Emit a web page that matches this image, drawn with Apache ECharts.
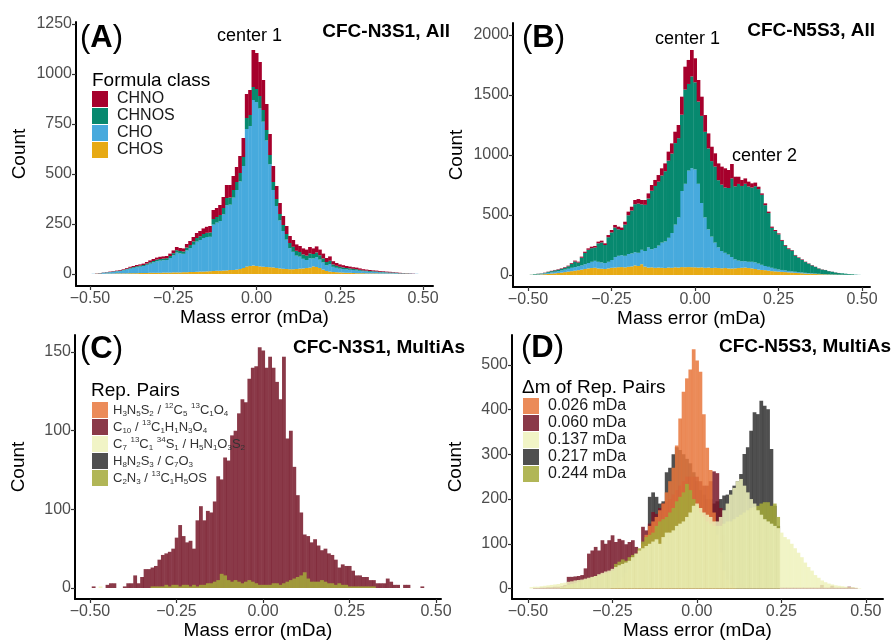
<!DOCTYPE html>
<html>
<head>
<meta charset="utf-8">
<script src="https://cdn.jsdelivr.net/npm/echarts@6/dist/echarts.min.js"></script>
<style>
html, body { margin: 0; padding: 0; background: #fff; }
#chart { width: 893px; height: 642px; }
</style>
</head>
<body>
<div id="chart"></div>
<script>
// bin centres (mDa), bin width 0.01
var bins = [-0.49,-0.48,-0.47,-0.46,-0.45,-0.44,-0.43,-0.42,-0.41,-0.40,
  -0.39,-0.38,-0.37,-0.36,-0.35,-0.34,-0.33,-0.32,-0.31,-0.30,
  -0.29,-0.28,-0.27,-0.26,-0.25,-0.24,-0.23,-0.22,-0.21,-0.20,
  -0.19,-0.18,-0.17,-0.16,-0.15,-0.14,-0.13,-0.12,-0.11,-0.10,
  -0.09,-0.08,-0.07,-0.06,-0.05,-0.04,-0.03,-0.02,-0.01,0.00,
  0.01,0.02,0.03,0.04,0.05,0.06,0.07,0.08,0.09,0.10,
  0.11,0.12,0.13,0.14,0.15,0.16,0.17,0.18,0.19,0.20,
  0.21,0.22,0.23,0.24,0.25,0.26,0.27,0.28,0.29,0.30,
  0.31,0.32,0.33,0.34,0.35,0.36,0.37,0.38,0.39,0.40,
  0.41,0.42,0.43,0.44,0.45,0.46,0.47,0.48,0.49];
var BIN = 0.01;

// (A) CFC-N3S1, All  -- stacked counts
var aCHOS = [0,1,1,1,2,2,2,3,3,3, 3,4,4,4,5,5,5,6,6,6, 6,7,7,7,8,8,8,9,9,10,
  10,11,12,12,13,14,15,16,16,17, 18,20,20,22,25,30,38,40,42,40, 38,36,35,34,33,30,28,26,25,24,
  24,25,27,28,30,32,38,35,30,22, 15,12,10,9,8,7,6,6,5,4, 4,4,3,3,3,3,2,2,2,2, 2,1,1,1,1,0,0,0,0];
var aCHO = [1,1,2,5,6,7,9,10,12,15, 20,23,27,30,32,35,41,46,52,58, 61,62,63,73,85,99,95,92,109,120,
  136,151,158,168,172,172,232,241,249,281, 326,327,362,398,438,510,687,700,828,820,
  790,726,633,515,387,310,240,189,147,105, 87,67,60,48,40,47,40,49,42,36,
  29,38,26,22,19,18,17,15,15,14, 12,10,10,8,8,7,6,6,5,4, 4,3,2,2,1,1,1,1,0];
var aCHNOS = [0,0,1,1,1,1,2,2,2,3, 3,4,4,5,5,5,6,7,7,8, 8,8,9,10,11,12,12,12,14,15,
  17,18,19,20,21,22,28,28,30,32, 36,36,38,40,42,45,55,55,65,65, 62,58,52,46,40,35,32,30,28,26,
  25,24,23,22,22,24,22,24,22,20, 16,16,12,10,9,8,7,7,6,6, 5,4,4,4,3,3,3,3,2,2, 2,2,1,1,1,1,0,0,0];
var aCHNO = [0,1,1,1,1,2,2,2,3,3, 4,5,5,6,6,7,8,9,10,10, 11,11,11,12,14,16,15,15,18,20,
  22,25,26,28,30,32,45,45,50,55, 65,62,70,75,85,95,120,125,185,180, 170,150,130,105,80,65,55,45,40,35,
  34,32,30,30,30,32,28,30,28,24, 20,22,16,14,12,11,10,9,8,8, 7,6,5,5,4,4,4,3,3,3, 2,2,2,1,1,1,1,0,0];

// (B) CFC-N5S3, All  -- stacked counts
var bCHOS = [1,2,3,5,7,9,12,14,17,20, 24,28,32,36,40,45,50,55,58,60, 55,52,50,55,60,62,65,66,64,68,
  72,80,75,90,70,62,64,60,62,60, 58,62,60,64,62,66,65,66,65,64, 62,64,60,62,58,60,58,56,58,55,
  54,56,58,60,62,58,55,50,45,42, 40,36,32,30,28,26,24,22,20,18, 16,14,12,11,10,8,7,6,5,4, 3,3,2,2,1,1,1,0,0];
var bCHO = [1,2,3,5,7,9,10,13,15,18, 21,24,28,30,32,35,40,45,52,58, 55,53,50,55,65,88,95,99,96,107,
  108,110,110,120,130,168,151,165,183,210, 222,248,290,356,418,634,695,804,825,816,
  698,536,420,318,262,210,172,144,127,115, 96,74,62,55,53,52,55,55,50,43,
  35,32,28,22,18,16,14,12,10,9, 8,7,6,5,4,4,3,2,2,2, 2,1,1,1,1,1,0,1,0];
var bCHNOS = [1,4,4,3,4,8,10,12,12,14, 16,21,34,46,32,64,94,110,114,111, 154,166,150,205,230,245,221,210,260,323,
  357,400,410,379,385,408,487,517,533,559, 585,643,662,679,660,636,786,722,765,726,
  685,726,713,675,629,634,560,553,544,555, 655,609,639,627,645,628,619,635,621,583,
  507,448,333,314,293,243,206,182,173,135, 119,106,90,78,66,55,44,37,34,26, 22,17,13,11,9,6,5,2,1];
var bCHNO = [0,0,1,1,2,2,3,3,4,4, 5,5,6,8,7,9,10,12,12,13, 14,15,14,18,20,22,22,20,24,30,
  32,35,38,36,40,42,48,50,55,60, 65,75,85,95,110,150,190,200,220,200, 180,160,140,125,120,110,140,150,160,150,
  120,80,60,50,45,40,35,30,20,12, 15,12,10,9,8,7,6,6,5,5, 4,4,3,3,3,2,2,2,1,1, 1,1,1,0,0,0,0,0,0];

// (C) CFC-N3S1, MultiAs -- overlaid counts
var cPair1 = [];
var cPair2 = [1,0,0,0,2,3,3,0,0,1, 3,3,8,3,7,12,12,13,14,18, 21,22,23,25,32,40,33,29,30,25,
  43,52,43,49,48,55,71,69,83,81, 97,100,111,120,118,133,140,141,153,151, 140,147,140,131,120,147,95,100,77,59,
  48,34,33,29,31,27,24,25,22,21, 18,13,15,14,14,11,8,8,7,7, 5,5,3,3,3,6,4,2,2,0, 2,2,0,0,0,1,0,0,0];
var cPair3 = [0,0,1,0,0,0,0,0,0,0, 0,0,0,0,0,0,0,0,0,0, 0,0,0,0,0,0,0,0,0,0,
  0,0,0,0,0,0,0,0,0,0, 0,0,0,0,0,0,0,0,0,0, 0,0,0,0,0,0,0,0,0,0,
  0,0,0,0,0,0,0,0,0,0, 0,0,0,0,0,0,0,0,0,0, 0,0,0,0,0,0,0,0,0,0, 0,0,0,0,0,0,0,0,0];
var cPair4 = [];
var cPair5 = [0,0,0,0,0,0,0,0,0,0, 0,0,0,0,0,0,0,1,1,1, 1,2,1,2,2,1,2,2,1,2,
  1,2,2,3,3,4,5,9,8,5, 4,5,4,3,4,5,4,3,2,2, 2,2,3,3,2,3,4,5,6,7,
  8,10,6,4,4,4,5,4,3,3, 2,3,2,2,1,1,1,1,1,1, 1,1,0,0,0,0,0,0,0,0, 0,0,0,0,0,0,0,0,0];

// (D) CFC-N5S3, MultiAs -- overlaid counts
var d026 = [0,0,0,0,0,0,0,0,0,0, 0,0,0,0,0,0,0,0,0,0, 0,0,0,0,5,10,15,25,35,45,
  60,70,85,100,120,140,150,160,175,190, 215,240,270,320,380,440,470,490,535,510,
  485,390,315,265,170,120,80,40,20,10, 5,0,0,0,0,0,0,0,0,0,
  0,0,0,0,0,0,0,0,0,0, 0,0,0,0,0,0,0,0,0,0, 0,0,0,0,0,0,0,0,0];
var d060 = [0,1,1,2,2,3,3,4,4,5, 8,26,26,27,28,30,45,78,85,93, 85,108,100,108,119,104,111,108,99,104,
  108,93,85,138,130,145,171,167,180,190, 195,200,210,220,230,240,250,250,250,250,
  240,230,230,240,262,258,180,120,60,30, 20,15,10,8,6,5,4,4,3,3,
  3,2,2,2,2,2,2,2,2,2, 2,2,2,2,2,2,8,2,2,6, 2,2,2,2,4,2,1,0,0];
var d137 = [3,4,4,5,6,7,8,9,10,12, 13,15,16,18,19,20,22,24,26,28, 32,35,38,40,44,48,52,55,58,62,
  70,78,85,90,95,100,105,110,100,115, 125,125,130,140,145,150,160,170,185,190,
  180,170,165,160,150,150,160,175,190,210, 225,240,245,230,215,200,190,175,165,155,
  150,145,140,135,125,115,110,100,90,80, 70,58,48,40,30,24,18,14,11,9, 7,6,5,4,3,3,2,1,0];
var d217 = [0,0,0,0,0,0,0,0,0,0, 0,0,0,0,0,0,0,0,0,0, 0,0,0,0,5,8,10,12,15,20,
  10,20,30,60,100,205,215,205,190,195, 260,270,300,316,310,300,290,280,260,240,
  220,210,200,200,190,195,200,208,210,220, 230,240,256,301,316,353,394,390,420,409,
  401,312,185,140,0,0,0,0,0,0, 0,0,0,0,0,0,0,0,0,0, 0,0,0,0,0,0,0,0,0];
var d244 = [0,0,0,0,0,0,0,0,0,3, 5,8,10,12,15,18,20,22,25,28, 30,32,34,36,40,55,60,65,62,70,
  75,78,90,105,115,120,125,140,150,155, 160,170,180,195,205,215,234,220,200,185,
  170,160,150,145,140,140,140,145,150,150, 155,160,165,170,175,180,182,185,190,193,
  193,185,190,160,0,0,0,0,0,0, 0,0,0,0,0,0,0,0,0,0, 0,0,0,0,0,0,0,0,0];

// tick values / labels
var xTicks = [-0.5, -0.25, 0, 0.25, 0.5];
var aYTicks = [0, 250, 500, 750, 1000, 1250];
var bYTicks = [0, 500, 1000, 1500, 2000];
var cYTicks = [0, 50, 100, 150];
var cYLabels = ['0', '100', '100', '150'];
var dYTicks = [0, 100, 200, 300, 400, 500];

var aNames = ['CHNO', 'CHNOS', 'CHO', 'CHOS'];
var aColors = ['#A6002C', '#07896F', '#47AADD', '#E7AA14'];
var pairNames = ['H3N5S2/12C5 13C1O4', 'C10/13C1H1N3O4', 'C7 13C1 34S1/H5N1O3S2', 'H8N2S3/C7O3', 'C2N3/13C1H5OS'];
var pairRich = [
  'H{b|3}N{b|5}S{b|2} / {p|12}C{b|5} {p|13}C{b|1}O{b|4}',
  'C{b|10} / {p|13}C{b|1}H{b|1}N{b|3}O{b|4}',
  'C{b|7} {p|13}C{b|1} {p|34}S{b|1} / H{b|5}N{b|1}O{b|3}S{b|2}',
  'H{b|8}N{b|2}S{b|3} / C{b|7}O{b|3}',
  'C{b|2}N{b|3} / {p|13}C{b|1}H{b|5}OS'
];
var dmNames = ['0.026 mDa', '0.060 mDa', '0.137 mDa', '0.217 mDa', '0.244 mDa'];
var pairColors = ['#E8773C', '#761628', '#EEF2BC', '#303030', '#A3A93A'];

var FONT = '"Liberation Sans", Arial, sans-serif';

function histSeries(idx, name, color, opacity, vals, base) {
  var data = [];
  for (var i = 0; i < bins.length; i++) {
    var lo = base ? base[i] : 0;
    var v = vals[i] || 0;
    data.push([bins[i], lo, lo + v]);
  }
  return {
    type: 'custom',
    name: name,
    xAxisIndex: idx,
    yAxisIndex: idx,
    silent: true,
    itemStyle: { color: color, opacity: opacity },
    encode: { x: 0, y: 2 },
    data: data,
    renderItem: function (params, api) {
      var lo = api.value(1), hi = api.value(2);
      if (!(hi > lo)) return null;
      var x = api.value(0);
      var p0 = api.coord([x - BIN / 2, lo]);
      var p1 = api.coord([x + BIN / 2, hi]);
      return {
        type: 'rect',
        shape: { x: p0[0], y: p1[1], width: p1[0] - p0[0] + 0.35, height: p0[1] - p1[1] },
        style: { fill: color, opacity: opacity }
      };
    }
  };
}

function minusFmt(v) {
  return (v < 0 ? '\u2212' : '') + Math.abs(v).toFixed(2);
}

function xAxisOf(idx, min, max) {
  return {
    type: 'value', gridIndex: idx, min: min, max: max,
    name: 'Mass error (mDa)', nameLocation: 'middle', nameGap: 22,
    nameTextStyle: { fontSize: 19, color: '#000', fontFamily: FONT },
    axisLine: { show: true, onZero: false, lineStyle: { color: '#000', width: 2 } },
    axisTick: { show: true, length: 4, customValues: xTicks, lineStyle: { color: '#333', width: 1.2 } },
    axisLabel: { customValues: xTicks, formatter: minusFmt, color: '#4D4D4D', fontSize: 16, fontFamily: FONT, margin: 5 },
    splitLine: { show: false }
  };
}

function yAxisOf(idx, min, max, ticks, fmt) {
  return {
    type: 'value', gridIndex: idx, min: min, max: max,
    name: 'Count', nameLocation: 'middle', nameGap: 47,
    nameTextStyle: { fontSize: 19, color: '#000', fontFamily: FONT },
    axisLine: { show: true, onZero: false, lineStyle: { color: '#000', width: 2 } },
    axisTick: { show: true, length: 4, customValues: ticks, lineStyle: { color: '#333', width: 1.2 } },
    axisLabel: { customValues: ticks, formatter: fmt || function (v) { return String(v); }, color: '#4D4D4D', fontSize: 16, fontFamily: FONT, margin: 4 },
    splitLine: { show: false }
  };
}

function stackBase(layers) {
  var out = [], acc = [];
  for (var i = 0; i < bins.length; i++) acc.push(0);
  layers.forEach(function (l) {
    out.push(acc.slice());
    for (var i = 0; i < bins.length; i++) acc[i] += l[i];
  });
  return out;
}

function label(x, y, text, size, weight, align) {
  return {
    type: 'text', x: x, y: y, silent: true,
    style: { text: text, fontSize: size, fontWeight: weight || 'normal', fontFamily: FONT, fill: '#000', align: align || 'left', verticalAlign: 'top' }
  };
}

function panelTag(x, y, letter) {
  return {
    type: 'text', x: x, y: y, silent: true,
    style: {
      text: '{p|(}{b|' + letter + '}{p|)}', verticalAlign: 'top',
      rich: {
        p: { fontSize: 31, fontFamily: FONT, fill: '#000' },
        b: { fontSize: 31, fontFamily: FONT, fontWeight: 'bold', fill: '#000' }
      }
    }
  };
}

var series = [];
// A: stacked bottom -> top: CHOS, CHO, CHNOS, CHNO
var aLayers = [aCHOS, aCHO, aCHNOS, aCHNO];
var aLayerNames = ['CHOS', 'CHO', 'CHNOS', 'CHNO'];
var aBases = stackBase(aLayers);
aLayers.forEach(function (l, k) {
  var nm = aLayerNames[k];
  series.push(histSeries(0, nm, aColors[aNames.indexOf(nm)], 1, l, aBases[k]));
});
// B
var bLayers = [bCHOS, bCHO, bCHNOS, bCHNO];
var bBases = stackBase(bLayers);
bLayers.forEach(function (l, k) {
  var nm = aLayerNames[k];
  series.push(histSeries(1, nm + ' ', aColors[aNames.indexOf(nm)], 1, l, bBases[k]));
});
// C
var cSets = [cPair1, cPair2, cPair3, cPair4, cPair5];
cSets.forEach(function (l, k) {
  series.push(histSeries(2, pairNames[k], pairColors[k], 0.85, l, null));
});
// D: drawing order grey, dark red, orange, olive, pale
var dSets = [d026, d060, d137, d217, d244];
[3, 1, 0, 4, 2].forEach(function (k) {
  series.push(histSeries(3, dmNames[k], pairColors[k], 0.85, dSets[k], null));
});

var legendBase = {
  orient: 'vertical', icon: 'rect', itemWidth: 16, itemHeight: 16, itemGap: 1,
  selectedMode: false, padding: 0
};

var option = {
  animation: false,
  backgroundColor: '#fff',
  grid: [
    { left: 76, top: 22, width: 357, height: 264 },
    { left: 513, top: 23, width: 357, height: 264 },
    { left: 75, top: 335, width: 366, height: 264 },
    { left: 512, top: 335, width: 371, height: 264 }
  ],
  xAxis: [
    xAxisOf(0, -0.542, 0.530),
    xAxisOf(1, -0.545, 0.524),
    xAxisOf(2, -0.5434, 0.5145),
    xAxisOf(3, -0.547, 0.5506)
  ],
  yAxis: [
    yAxisOf(0, -60, 1260, aYTicks),
    yAxisOf(1, -100, 2100, bYTicks),
    yAxisOf(2, -7, 160.8, cYTicks, function (v) { return cYLabels[cYTicks.indexOf(v)]; }),
    yAxisOf(3, -23.5, 567, dYTicks)
  ],
  legend: [
    Object.assign({}, legendBase, {
      left: 92, top: 91, data: aNames,
      textStyle: { fontSize: 16, color: '#1a1a1a', fontFamily: FONT, lineHeight: 16, padding: [0, 0, 0, 4] }
    }),
    Object.assign({}, legendBase, {
      left: 92, top: 402, data: pairNames,
      formatter: function (name) { return pairRich[pairNames.indexOf(name)]; },
      textStyle: {
        fontSize: 13, color: '#333', fontFamily: FONT, lineHeight: 16,
        rich: {
          b: { fontSize: 8, fontFamily: FONT, color: '#333', lineHeight: 16, verticalAlign: 'bottom' },
          p: { fontSize: 8, fontFamily: FONT, color: '#333', lineHeight: 16, verticalAlign: 'top' }
        }
      }
    }),
    Object.assign({}, legendBase, {
      left: 523, top: 398, data: dmNames,
      textStyle: { fontSize: 16, color: '#1a1a1a', fontFamily: FONT, lineHeight: 16, padding: [0, 0, 0, 4] }
    })
  ],
  graphic: [
    panelTag(80, 23, 'A'),
    panelTag(522, 23, 'B'),
    panelTag(80, 334, 'C'),
    panelTag(521, 333, 'D'),
    label(450, 22, 'CFC-N3S1, All', 19, 'bold', 'right'),
    label(875, 21, 'CFC-N5S3, All', 19, 'bold', 'right'),
    label(465, 338, 'CFC-N3S1, MultiAs', 19, 'bold', 'right'),
    label(891, 337, 'CFC-N5S3, MultiAs', 19, 'bold', 'right'),
    label(217, 27, 'center 1', 18),
    label(655, 30, 'center 1', 18),
    label(732, 147, 'center 2', 18),
    label(92, 71, 'Formula class', 19),
    label(91, 381, 'Rep. Pairs', 19),
    label(522, 378, '\u0394m of Rep. Pairs', 19)
  ],
  series: series
};

var chart = echarts.init(document.getElementById('chart'), null, { renderer: 'canvas' });
chart.setOption(option);
</script>
</body>
</html>
